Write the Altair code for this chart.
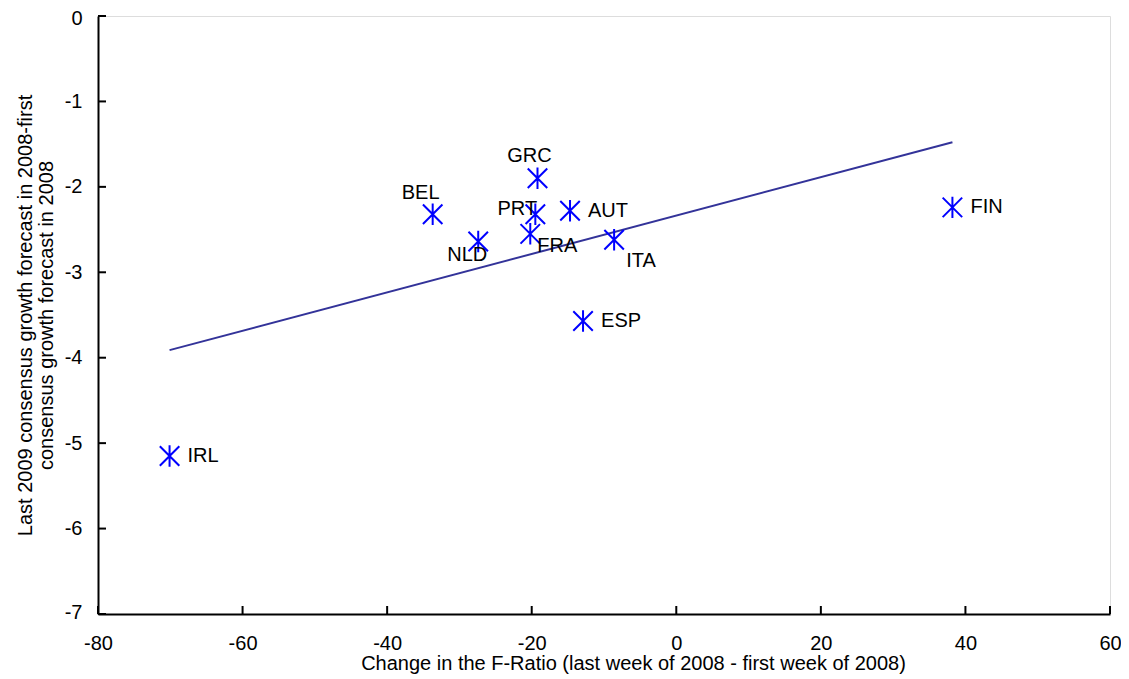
import altair as alt
import pandas as pd

countries = ["IRL", "BEL", "NLD", "GRC", "PRT", "FRA", "AUT", "ITA", "ESP", "FIN"]
f_ratio_change = [-70.1, -33.7, -27.4, -19.2, -19.5, -20.2, -14.7, -8.6, -12.9, 38.2]
growth_revision = [-5.15, -2.32, -2.64, -1.90, -2.32, -2.55, -2.28, -2.62, -3.57, -2.24]

x_ticks = [-80, -60, -40, -20, 0, 20, 40, 60]
y_ticks = [0, -1, -2, -3, -4, -5, -6, -7]

df = pd.DataFrame({"country": countries, "x": f_ratio_change, "y": growth_revision})

# label placement (style): dx, dy, align
label_style = {
    "IRL": (18, 0, "left"),
    "BEL": (-12, -21, "center"),
    "NLD": (-11, 13, "center"),
    "GRC": (-8, -22, "center"),
    "PRT": (-18, -5, "center"),
    "FRA": (27, 12, "center"),
    "AUT": (18, 0, "left"),
    "ITA": (27, 21, "center"),
    "ESP": (18, 0, "left"),
    "FIN": (18, 0, "left"),
}

FONT = "Liberation Sans"
FS = 20
W, H = 1012, 598

xscale = alt.Scale(domain=[-80, 60], nice=False, zero=False)
yscale = alt.Scale(domain=[-7, 0], nice=False, zero=False)

xenc = alt.X("x:Q", scale=xscale, axis=alt.Axis(
    title="Change in the F-Ratio (last week of 2008 - first week of 2008)",
    values=x_ticks, ticks=False, grid=False, domainColor="black", domainWidth=2,
    labelExpr="'' + datum.value", labelFlush=False,
    labelFont=FONT, labelFontSize=FS, labelColor="black", labelPadding=19,
    titleFont=FONT, titleFontSize=FS, titleFontWeight="normal", titleColor="black",
    titleX=535, titleY=39, titleBaseline="top", titleAlign="center"))
yenc = alt.Y("y:Q", scale=yscale, axis=alt.Axis(
    title=["Last 2009 consensus growth forecast in 2008-first", "consensus growth forecast in 2008"],
    values=y_ticks, ticks=False, grid=False, domainColor="black", domainWidth=2,
    labelExpr="'' + datum.value", labelFlush=True, labelFlushOffset=8,
    labelFont=FONT, labelFontSize=FS, labelColor="black", labelPadding=16,
    titleFont=FONT, titleFontSize=FS, titleFontWeight="normal", titleColor="black",
    titlePadding=8, titleLineHeight=21))

base = alt.Chart(df)

trend = base.transform_regression("x", "y").mark_line(
    color="#333399", strokeWidth=2).encode(x=xenc, y=yenc)

asterisk = "M-1,-1L1,1M-1,1L1,-1M0,-1.1L0,1.1"
points = base.mark_point(shape=asterisk, filled=False, color="#0000FF",
                         strokeWidth=2, size=380, opacity=1).encode(x="x:Q", y="y:Q")

labels = []
for c in countries:
    dx, dy, al = label_style[c]
    labels.append(base.transform_filter(alt.datum.country == c).mark_text(
        dx=dx, dy=dy, align=al, baseline="middle", font=FONT, fontSize=FS, color="black"
    ).encode(x="x:Q", y="y:Q", text="country:N"))

xt = alt.Chart(pd.DataFrame({"x": x_ticks})).mark_rule(color="black", strokeWidth=2).encode(
    x=alt.X("x:Q", scale=xscale), y=alt.value(H - 8), y2=alt.value(H))
yt = alt.Chart(pd.DataFrame({"y": y_ticks})).mark_rule(color="black", strokeWidth=2).encode(
    y=alt.Y("y:Q", scale=yscale), x=alt.value(0), x2=alt.value(8))

chart = alt.layer(trend, points, *labels, xt, yt).properties(
    width=W, height=H,
    autosize=alt.AutoSizeParams(type="none"),
    padding={"left": 90, "top": 8, "right": 11, "bottom": 62},
).configure_view(stroke="black", strokeWidth=2).configure(background="white")

chart.save("out.html", embed_options={"renderer": "svg", "actions": False})
